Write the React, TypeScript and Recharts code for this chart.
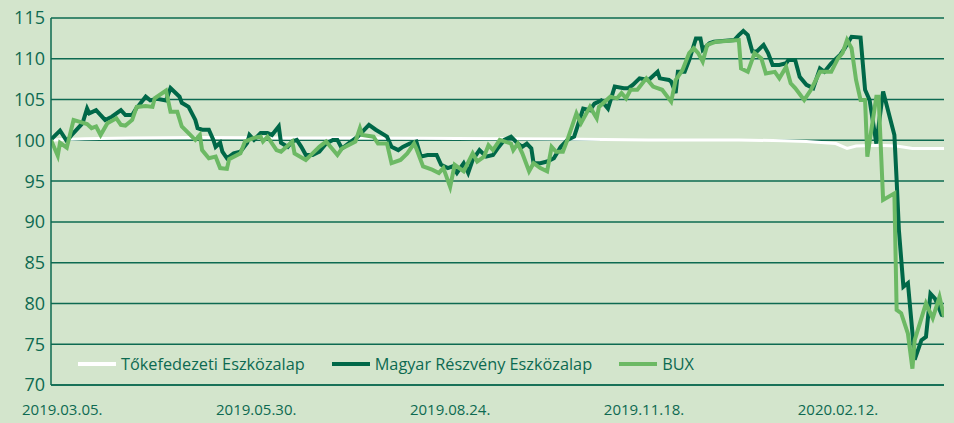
import { LineChart, Line, XAxis, YAxis, CartesianGrid } from "recharts";

// days counted from 2019.03.05.
const tickDays = [0, 86, 172, 258, 344];
const tickLabels = ["2019.03.05.", "2019.05.30.", "2019.08.24.", "2019.11.18.", "2020.02.12."];
const yTicks = [70, 75, 80, 85, 90, 95, 100, 105, 110, 115];

const tokeDays = [-5, 0, 10, 30, 60, 100, 130, 160, 190, 220, 260, 300, 320, 330, 343, 348, 352, 362, 370, 377, 391];
const tokeValues = [100.0, 100.1, 100.2, 100.3, 100.35, 100.3, 100.3, 100.25, 100.2, 100.15, 100.05, 100.05, 99.95, 99.85, 99.6, 99.0, 99.3, 99.4, 99.3, 99.0, 99.0];

const mreDays = [
  -5, -1, 2, 4, 9, 11, 12, 15, 17, 19,
  22, 26, 28, 31, 33, 34, 37, 39, 42, 46,
  48, 52, 53, 56, 59, 60, 62, 65, 67, 68,
  70, 71, 73, 76, 79, 82, 83, 85, 88, 91,
  93, 96, 97, 100, 102, 104, 106, 108, 111, 114,
  117, 120, 122, 124, 128, 131, 136, 139, 144, 146,
  149, 151, 154, 157, 159, 162, 166, 168, 171, 173,
  175, 178, 180, 182, 185, 188, 191, 193, 196, 199,
  202, 204, 206, 208, 209, 212, 215, 218, 221, 224,
  227, 228, 231, 234, 236, 239, 242, 245, 249, 251,
  253, 256, 260, 264, 265, 269, 270, 272, 273, 276,
  278, 281, 283, 284, 287, 289, 298, 300, 302, 304,
  306, 308, 311, 313, 315, 318, 321, 322, 325, 327,
  330, 333, 336, 338, 341, 345, 347, 350, 354, 356,
  358, 361, 364, 369, 370, 371, 373, 375, 377, 378,
  381, 383, 385, 387, 390, 391,
];
const mreValues = [
  100.1, 101.2, 99.9, 100.6, 102.1, 103.9, 103.3, 103.7, 103.1, 102.5,
  102.9, 103.7, 103.1, 103.1, 104.0, 104.3, 105.35, 104.9, 105.1, 104.9,
  106.4, 105.35, 104.6, 104.1, 102.5, 101.5, 101.3, 101.3, 100.05, 99.2,
  99.7, 98.6, 97.8, 98.4, 98.6, 99.7, 100.65, 100.05, 100.9, 100.9,
  100.65, 101.7, 99.7, 99.2, 99.85, 100.05, 99.2, 98.2, 98.2, 98.6,
  99.6, 100.05, 100.05, 99.0, 99.85, 100.45, 101.9, 101.3, 100.45, 99.2,
  98.8, 99.2, 99.6, 99.85, 98.0, 98.2, 98.2, 97.0, 96.6, 96.8,
  96.0, 97.2, 96.0, 97.6, 98.8, 98.0, 98.2, 99.0, 100.05, 100.45,
  99.6, 99.2, 99.6, 99.0, 97.2, 97.2, 97.4, 97.8, 99.2, 100.05,
  100.45, 101.3, 103.9, 103.7, 104.5, 104.9, 103.9, 106.6, 106.4, 106.4,
  106.8, 107.6, 107.4, 108.4, 107.6, 107.4, 107.2, 105.8, 108.4, 108.4,
  109.85, 112.5, 112.5, 111.1, 111.9, 112.1, 112.3, 112.9, 113.4, 112.9,
  110.9, 110.9, 111.7, 110.7, 109.25, 109.25, 109.45, 109.85, 109.85, 107.8,
  106.8, 106.4, 108.8, 108.4, 109.45, 110.5, 111.3, 112.7, 112.6, 106.2,
  104.95, 99.6, 106.0, 100.65, 95.1, 89, 82.05, 82.5, 76.4, 73.1,
  75.5, 75.9, 81.2, 80.6, 78.6, 78.5,
];

const buxDays = [
  -5, -2, -1, 2, 5, 11, 13, 15, 17, 20,
  24, 26, 28, 31, 33, 37, 40, 41, 46, 48,
  51, 53, 59, 61, 62, 65, 68, 70, 73, 74,
  79, 81, 85, 88, 89, 91, 95, 97, 102, 103,
  108, 111, 114, 117, 122, 124, 130, 132, 133, 138,
  140, 144, 146, 150, 153, 156, 157, 160, 164, 167,
  169, 172, 174, 178, 182, 184, 187, 189, 191, 194,
  199, 200, 202, 204, 207, 209, 212, 215, 217, 219,
  222, 224, 228, 230, 234, 237, 238, 243, 246, 248,
  250, 252, 255, 259, 262, 266, 270, 272, 275, 278,
  280, 282, 284, 286, 290, 300, 301, 304, 307, 310,
  312, 316, 318, 321, 323, 325, 329, 332, 336, 341,
  344, 346, 348, 350, 352, 354, 356, 357, 361, 362,
  364, 369, 370, 372, 375, 377, 378, 383, 386, 389,
  391,
];
const buxValues = [
  100.05, 98.1, 99.7, 99.1, 102.5, 102.0, 101.5, 101.7, 100.65, 102.1,
  102.7, 101.9, 101.8, 102.5, 104.1, 104.2, 104.1, 105.15, 106.1, 103.5,
  103.5, 101.7, 100.05, 100.65, 98.8, 97.8, 98.0, 96.6, 96.5, 97.7,
  98.4, 99.85, 100.3, 100.45, 99.85, 100.45, 98.8, 98.6, 99.85, 98.4,
  97.6, 98.4, 99.2, 99.85, 98.2, 99.0, 99.85, 101.5, 100.65, 100.45,
  99.6, 99.6, 97.2, 97.6, 98.4, 99.6, 99.0, 96.8, 96.4, 96.0,
  96.6, 94.3, 97.0, 96.2, 98.4, 97.4, 98.0, 99.4, 98.8, 100.05,
  99.6, 98.8, 99.6, 98.4, 96.2, 97.2, 96.6, 96.2, 99.2, 98.6,
  98.6, 100.05, 103.3, 102.1, 104.1, 102.7, 104.1, 105.35, 105.15, 105.8,
  105.15, 106.2, 106.2, 107.6, 106.6, 106.2, 104.75, 107.4, 108.6, 110.7,
  111.3, 110.7, 109.65, 111.7, 112.1, 112.3, 108.8, 108.4, 110.7, 110.05,
  108.2, 108.4, 107.6, 109.0, 107.0, 106.4, 104.95, 106.2, 108.4, 108.4,
  110.05, 110.7, 112.3, 111.3, 107.4, 104.95, 104.95, 98.0, 105.35, 105.35,
  92.7, 93.5, 79.2, 78.8, 76.3, 72.0, 75.5, 80.0, 78.2, 80.8,
  78.4,
];

const BG = "#d3e5cc";
const INK = "#0d6a51";
const DARK = "#006848";
const LIGHT = "#6cb964";
const FONT = "'Open Sans', sans-serif";

const toRows = (days: number[], values: number[]) => days.map((day, i) => ({ day, value: values[i] }));

const series = [
  { name: "Tőkefedezeti Eszközalap", color: "#ffffff", width: 3, data: toRows(tokeDays, tokeValues) },
  { name: "Magyar Részvény Eszközalap", color: DARK, width: 4, data: toRows(mreDays, mreValues) },
  { name: "BUX", color: LIGHT, width: 4, data: toRows(buxDays, buxValues) },
];

function ChartLegend() {
  return (
    <div
      style={{
        position: "absolute",
        left: 78,
        top: 353,
        display: "flex",
        alignItems: "center",
        gap: 27,
        fontFamily: FONT,
        fontSize: 16.3,
        color: INK,
        whiteSpace: "nowrap",
      }}
    >
      {series.map((s) => (
        <div key={s.name} style={{ display: "flex", alignItems: "center", gap: 5 }}>
          <span style={{ display: "inline-block", width: 38, height: 4, background: s.color }} />
          <span>{s.name}</span>
        </div>
      ))}
    </div>
  );
}

export default function App() {
  return (
    <div style={{ position: "absolute", left: 0, top: 0, width: 954, height: 423, background: BG, overflow: "hidden" }}>
      <LineChart width={954} height={423} margin={{ top: 18, right: 10, bottom: 0, left: 0 }}>
        <CartesianGrid vertical={false} stroke={INK} strokeWidth={1.5} />
        <XAxis
          type="number"
          dataKey="day"
          domain={[-5, 391]}
          ticks={tickDays}
          tickFormatter={(v: number) => tickLabels[tickDays.indexOf(v)]}
          axisLine={{ stroke: INK, strokeWidth: 1.5 }}
          tickLine={false}
          tickMargin={13}
          height={38}
          tick={{ fill: INK, fontSize: 15, fontFamily: FONT }}
          allowDataOverflow
        />
        <YAxis
          type="number"
          domain={[70, 115]}
          ticks={yTicks}
          interval={0}
          width={51}
          axisLine={{ stroke: INK, strokeWidth: 1.5 }}
          tickLine={false}
          tickMargin={0}
          tick={{ fill: INK, fontSize: 18, fontFamily: FONT }}
        />
        {series.map((s) => (
          <Line
            key={s.name}
            data={s.data}
            dataKey="value"
            name={s.name}
            type="linear"
            stroke={s.color}
            strokeWidth={s.width}
            dot={false}
            activeDot={false}
            isAnimationActive={false}
          />
        ))}
      </LineChart>
      <ChartLegend />
    </div>
  );
}
